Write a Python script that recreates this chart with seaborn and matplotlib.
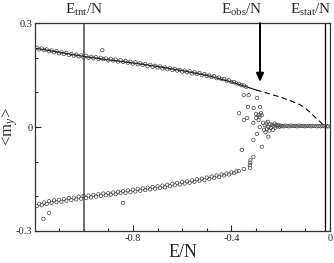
import numpy as np
import pandas as pd
import matplotlib
matplotlib.use("Agg")
import matplotlib.pyplot as plt
import seaborn as sns

# upper branch <m_y> vs E/N
upper_e = [-1.19, -1.18, -1.17, -1.16, -1.15, -1.14, -1.13, -1.12, -1.11, -1.10,
           -1.09, -1.08, -1.07, -1.06, -1.05, -1.04, -1.03, -1.02, -1.01, -1.00,
           -0.99, -0.98, -0.97, -0.96, -0.95, -0.94, -0.93, -0.924, -0.92, -0.91, -0.90,
           -0.89, -0.88, -0.87, -0.86, -0.85, -0.84, -0.83, -0.82, -0.81, -0.80,
           -0.79, -0.78, -0.77, -0.76, -0.75, -0.74, -0.73, -0.72, -0.71, -0.70,
           -0.69, -0.68, -0.67, -0.66, -0.65, -0.64, -0.63, -0.62, -0.61, -0.60,
           -0.59, -0.58, -0.57, -0.56, -0.55, -0.54, -0.53, -0.52, -0.51, -0.50,
           -0.49, -0.48, -0.47, -0.46, -0.45, -0.44, -0.43, -0.42, -0.41, -0.40,
           -0.39, -0.38, -0.37, -0.36, -0.35, -0.34]
upper_m = [0.229, 0.224, 0.227, 0.222, 0.224, 0.219, 0.221, 0.216, 0.219, 0.213,
           0.216, 0.211, 0.214, 0.208, 0.211, 0.206, 0.209, 0.204, 0.207, 0.201,
           0.206, 0.200, 0.203, 0.198, 0.202, 0.197, 0.200, 0.222, 0.196, 0.198, 0.193,
           0.197, 0.192, 0.195, 0.189, 0.193, 0.188, 0.191, 0.186, 0.189, 0.183,
           0.187, 0.181, 0.184, 0.179, 0.182, 0.176, 0.180, 0.174, 0.177, 0.172,
           0.175, 0.169, 0.172, 0.167, 0.170, 0.165, 0.168, 0.163, 0.165, 0.160,
           0.163, 0.158, 0.161, 0.155, 0.158, 0.153, 0.156, 0.150, 0.153, 0.148,
           0.149, 0.145, 0.147, 0.141, 0.143, 0.138, 0.139, 0.134, 0.135, 0.130,
           0.130, 0.126, 0.125, 0.121, 0.120, 0.116]

# lower branch
lower_e = [-1.19, -1.18, -1.17, -1.163, -1.16, -1.15, -1.14, -1.14, -1.13, -1.12, -1.11, -1.10,
           -1.09, -1.08, -1.07, -1.06, -1.05, -1.04, -1.03, -1.02, -1.01, -1.00,
           -0.99, -0.98, -0.97, -0.96, -0.95, -0.94, -0.93, -0.92, -0.91, -0.90,
           -0.89, -0.88, -0.87, -0.86, -0.85, -0.84, -0.84, -0.83, -0.82, -0.81, -0.80,
           -0.79, -0.78, -0.77, -0.76, -0.75, -0.74, -0.73, -0.72, -0.71, -0.70,
           -0.69, -0.68, -0.67, -0.66, -0.65, -0.64, -0.63, -0.62, -0.61, -0.60,
           -0.59, -0.58, -0.57, -0.56, -0.55, -0.54, -0.53, -0.52, -0.51, -0.50,
           -0.49, -0.48, -0.47, -0.46, -0.45, -0.44, -0.43, -0.42, -0.41, -0.40,
           -0.39, -0.38, -0.37]
lower_m = [-0.228, -0.222, -0.226, -0.265, -0.218, -0.222, -0.214, -0.248, -0.219, -0.212, -0.217, -0.210,
           -0.216, -0.208, -0.213, -0.205, -0.211, -0.204, -0.209, -0.201, -0.207, -0.199,
           -0.205, -0.198, -0.203, -0.196, -0.201, -0.194, -0.199, -0.192, -0.197, -0.191,
           -0.195, -0.189, -0.194, -0.187, -0.191, -0.185, -0.219, -0.190, -0.183, -0.188, -0.181,
           -0.186, -0.179, -0.184, -0.177, -0.182, -0.175, -0.180, -0.173, -0.178, -0.171,
           -0.176, -0.169, -0.174, -0.167, -0.171, -0.164, -0.168, -0.161, -0.166, -0.159,
           -0.163, -0.157, -0.161, -0.154, -0.158, -0.151, -0.155, -0.149, -0.153, -0.146,
           -0.150, -0.143, -0.147, -0.140, -0.144, -0.137, -0.140, -0.134, -0.137, -0.131,
           -0.133, -0.128, -0.127]

# points in the transition around E_obs
trans_e = [-0.350, -0.325, -0.325, -0.324, -0.323, -0.311, -0.358, -0.277, -0.311, -0.297,
           -0.285, -0.250, -0.350, -0.330, -0.296, -0.333, -0.310, -0.284, -0.369, -0.336,
           -0.300, -0.290, -0.280, -0.285, -0.300, -0.277, -0.350, -0.311, -0.290]
trans_m = [-0.121, -0.118, -0.110, -0.103, -0.096, -0.086, -0.066, -0.057, -0.037, -0.020,
           0.000, -0.028, 0.092, 0.092, 0.084, 0.058, 0.055, 0.058, 0.040, 0.026,
           0.038, 0.035, 0.040, 0.030, 0.026, 0.034, 0.020, 0.012, 0.020]

# paramagnetic branch near m = 0
zero_e = [-0.272, -0.268, -0.265, -0.262, -0.258, -0.255, -0.252, -0.250, -0.246, -0.243,
          -0.240, -0.236, -0.232, -0.228, -0.225, -0.222, -0.218, -0.214, -0.210, -0.205,
          -0.200, -0.195, -0.190, -0.182, -0.174, -0.166, -0.158, -0.150, -0.142, -0.134,
          -0.126, -0.118, -0.110, -0.102, -0.094, -0.086, -0.078, -0.070, -0.062, -0.054,
          -0.046, -0.038, -0.030, -0.022, -0.014, -0.008]
zero_m = [0.012, -0.008, 0.005, -0.015, 0.010, -0.005, 0.015, 0.000, -0.010, 0.008,
          -0.003, 0.006, -0.008, 0.004, 0.010, -0.002, 0.005, 0.002, 0.006, 0.001,
          0.004, 0.003, 0.002, 0.004, 0.003, 0.002, 0.004, 0.003, 0.003, 0.002,
          0.004, 0.003, 0.003, 0.002, 0.003, 0.003, 0.002, 0.003, 0.003, 0.002,
          0.003, 0.002, 0.003, 0.002, 0.002, 0.002]

# theory curve (solid part and dashed continuation)
solid_e = [-1.2, -1.1, -1.0, -0.9, -0.8, -0.7, -0.6, -0.5, -0.4, -0.3]
solid_m = [0.228, 0.216, 0.204, 0.194, 0.185, 0.175, 0.163, 0.149, 0.130, 0.107]
dash_e = [-0.3, -0.25, -0.2, -0.15, -0.12, -0.1, -0.08, -0.06, -0.04, -0.027, -0.02]
dash_m = [0.107, 0.097, 0.086, 0.073, 0.064, 0.054, 0.042, 0.028, 0.015, 0.006, 0.0]

E_TNT = -1.0
E_OBS = -0.284
E_STAT = -0.019

sns.set_style("ticks")
plt.rcParams['font.family'] = ['Liberation Serif', 'DejaVu Serif']
plt.rcParams['mathtext.fontset'] = 'custom'
plt.rcParams['mathtext.rm'] = 'Liberation Serif'
plt.rcParams['mathtext.it'] = 'Liberation Serif:italic'

pts = pd.DataFrame({
    "E": upper_e + lower_e + trans_e + zero_e,
    "m": upper_m + lower_m + trans_m + zero_m,
})

fig = plt.figure(figsize=(3.34, 2.63), dpi=100)
ax = fig.add_axes([0.105, 0.122, 0.883, 0.79])

sns.lineplot(x=solid_e, y=solid_m, ax=ax, color="black", lw=0.8, sort=False)
sns.lineplot(x=dash_e, y=dash_m, ax=ax, color="black", lw=0.8, sort=False,
             linestyle=(0, (5, 3)))
sns.scatterplot(data=pts, x="E", y="m", ax=ax, marker="o", s=6,
                facecolor="none", edgecolor="#444444", linewidth=0.5, zorder=3)

ax.axvline(E_TNT, color="#555555", lw=1.2, zorder=1)
ax.axvline(E_STAT, color="black", lw=0.9, zorder=1)
ax.annotate("", xy=(E_OBS, 0.13), xytext=(E_OBS, 0.3),
            arrowprops=dict(arrowstyle="-|>,head_length=0.5,head_width=0.22",
                            color="black", lw=1.4, shrinkA=0, shrinkB=0))

ax.set_xlim(-1.197, 0.0)
ax.set_ylim(-0.3, 0.3)
ax.set_xticks([-0.8, -0.4, 0.0])
ax.set_xticklabels(["-0.8", "-0.4", "0"])
ax.set_xticks(np.array([-1.1, -1.0, -0.9, -0.7, -0.6, -0.5, -0.3, -0.2, -0.1]), minor=True)
ax.set_yticks([-0.3, 0.0, 0.3])
ax.set_yticklabels(["-0.3", "0", "0.3"])
ax.set_yticks([-0.2, -0.1, 0.1, 0.2], minor=True)
ax.tick_params(which="both", direction="in", labelsize=7.5, width=0.8)
ax.tick_params(which="major", length=4, pad=2)
ax.tick_params(which="minor", length=2.5)
for s in ax.spines.values():
    s.set_linewidth(0.9)
    s.set_color("#333333")

ax.set_xlabel("E/N", fontsize=13, labelpad=1)
ax.set_ylabel(r"<m$_y$>", fontsize=12)
ax.yaxis.set_label_coords(-0.05, 0.5)

lab_y = 1.045
ax.text(E_TNT, lab_y, r"E$_{\rm tnt}$/N", transform=ax.get_xaxis_transform(),
        ha="center", va="baseline", fontsize=11)
ax.text(-0.36, lab_y, r"E$_{\rm obs}$/N", transform=ax.get_xaxis_transform(),
        ha="center", va="baseline", fontsize=11)
ax.text(-0.078, lab_y, r"E$_{\rm stat}$/N", transform=ax.get_xaxis_transform(),
        ha="center", va="baseline", fontsize=11)

plt.savefig("out.png", dpi=100)
